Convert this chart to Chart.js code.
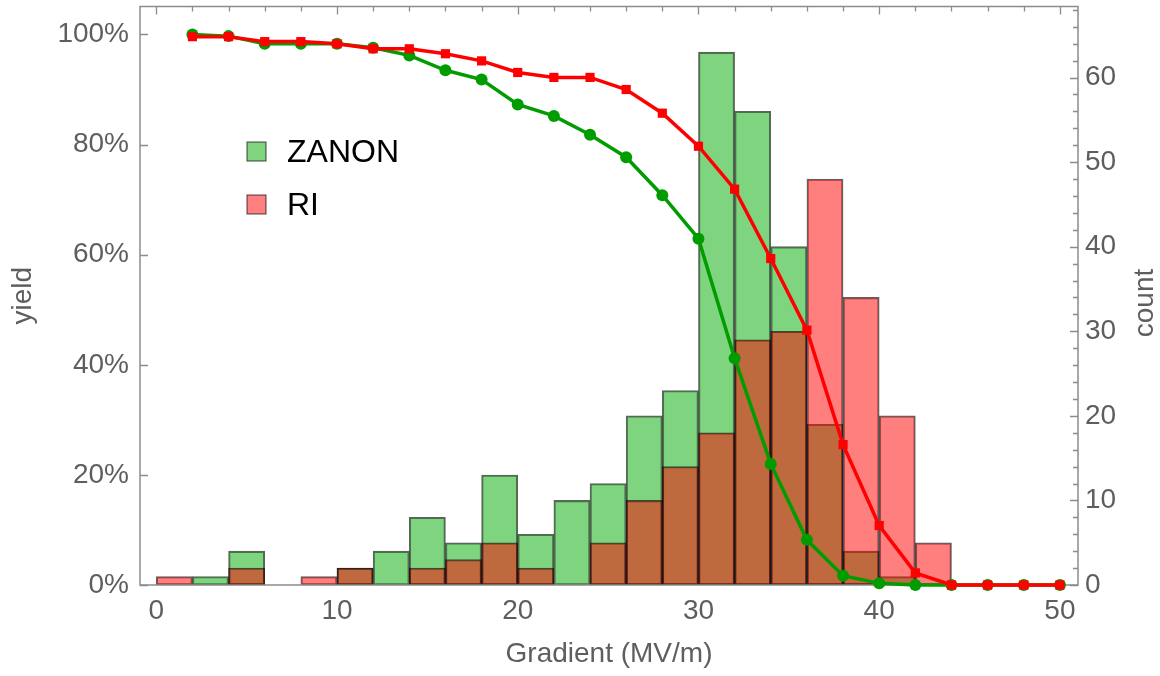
<!DOCTYPE html>
<html>
<head>
<meta charset="utf-8">
<script src="https://cdn.jsdelivr.net/npm/chart.js@4.4.1/dist/chart.umd.min.js"></script>
<style>
  html, body { margin: 0; padding: 0; background: #fff; }
  #wrap { width: 1160px; height: 676px; }
</style>
</head>
<body>
<div id="wrap"><canvas id="chart" width="1160" height="676"></canvas></div>
<script>
// histogram: 2 MV/m wide bins, keyed by bin centre
const binCentres  = [1, 3, 5, 7, 9, 11, 13, 15, 17, 19, 21, 23, 25, 27, 29, 31, 33, 35, 37, 39, 41, 43];
const zanonCounts = [0, 1, 4, 0, 0, 2, 4, 8, 5, 13, 6, 10, 12, 20, 23, 63, 56, 40, 19, 4, 1, 0];
const riCounts    = [1, 0, 2, 0, 1, 2, 0, 2, 3, 5, 2, 0, 5, 10, 14, 18, 29, 30, 48, 34, 20, 5];

// yield curves (%), sampled every 2 MV/m
const yieldGradients = [2, 4, 6, 8, 10, 12, 14, 16, 18, 20, 22, 24, 26, 28, 30, 32, 34, 36, 38, 40, 42, 44, 46, 48, 50];
const zanonYield = [100, 99.7, 98.3, 98.3, 98.3, 97.6, 96.2, 93.5, 91.8, 87.3, 85.2, 81.8, 77.7, 70.8, 62.9, 41.2, 22.0, 8.2, 1.7, 0.3, 0, 0, 0, 0, 0];
const riYield    = [99.6, 99.6, 98.7, 98.7, 98.3, 97.4, 97.4, 96.5, 95.2, 93.1, 92.2, 92.2, 90.0, 85.7, 79.7, 71.9, 59.3, 46.3, 25.5, 10.8, 2.2, 0, 0, 0, 0];

const xTicks     = [0, 10, 20, 30, 40, 50];
const yieldTicks = [0, 20, 40, 60, 80, 100];
const countTicks = [0, 10, 20, 30, 40, 50, 60];

const FONT = '"Liberation Sans", Arial, Helvetica, sans-serif';
const GREY = '#5e5e5e';
const FRAME = '#8c8c8c';

const setTicks = vals => scale => { scale.ticks = vals.map(v => ({ value: v })); };

// frame with inward ticks, drawn after the bars but under the lines
const framePlugin = {
  id: 'frame',
  afterDatasetDraw(chart, args) {
    if (args.index !== 1) return;
    const { ctx, chartArea: a, scales } = chart;
    ctx.save();
    ctx.strokeStyle = FRAME;
    ctx.lineWidth = 1.5;
    ctx.strokeRect(a.left, a.top, a.right - a.left, a.bottom - a.top);
    ctx.lineWidth = 1.3;
    ctx.beginPath();
    for (let v = 0; v <= 50; v += 2) {
      const px = Math.round(scales.x.getPixelForValue(v)) + 0.5;
      const len = v % 10 === 0 ? 8 : 5;
      ctx.moveTo(px, a.top); ctx.lineTo(px, a.top + len);
    }
    scales.y.ticks.forEach(t => {
      const py = Math.round(scales.y.getPixelForValue(t.value)) + 0.5;
      ctx.moveTo(a.left, py); ctx.lineTo(a.left + 8, py);
    });
    for (let v = 0; v <= 68; v += 2) {
      const py = Math.round(scales.y2.getPixelForValue(v)) + 0.5;
      const len = v % 10 === 0 ? 8 : 5;
      ctx.moveTo(a.right, py); ctx.lineTo(a.right - len, py);
    }
    ctx.stroke();
    ctx.restore();
  },
  afterDraw(chart) {
    const { ctx } = chart;
    ctx.save();
    // right axis title, reading bottom to top
    ctx.translate(1145, 303);
    ctx.rotate(-Math.PI / 2);
    ctx.fillStyle = GREY;
    ctx.font = '28px ' + FONT;
    ctx.textAlign = 'center';
    ctx.textBaseline = 'middle';
    ctx.fillText('count', 0, 0);
    ctx.restore();

    // legend
    const items = [
      { label: 'ZANON', fill: 'rgb(128,212,128)', y: 152 },
      { label: 'RI', fill: 'rgb(255,128,128)', y: 205 },
    ];
    ctx.save();
    ctx.font = '32px ' + FONT;
    ctx.textBaseline = 'middle';
    items.forEach(it => {
      ctx.fillStyle = it.fill;
      ctx.fillRect(247, it.y - 10, 19, 19);
      ctx.strokeStyle = 'rgba(0,0,0,0.55)';
      ctx.lineWidth = 1.3;
      ctx.strokeRect(247, it.y - 10, 19, 19);
      ctx.fillStyle = '#000';
      ctx.fillText(it.label, 287, it.y + 1);
    });
    ctx.restore();
  }
};

const barStyle = {
  type: 'bar',
  xAxisID: 'x',
  yAxisID: 'y2',
  grouped: false,
  barPercentage: 1,
  categoryPercentage: 1,
  borderWidth: 1.4,
  borderColor: 'rgba(0,0,0,0.62)',
  borderSkipped: false,
};

const noPad = s => { s.paddingTop = 0; s.paddingBottom = 0; };

new Chart(document.getElementById('chart'), {
  type: 'bar',
  data: {
    datasets: [
      {
        ...barStyle,
        label: 'ZANON',
        order: 4,
        backgroundColor: 'rgba(0,170,0,0.5)',
        data: binCentres.map((c, i) => ({ x: c, y: zanonCounts[i] || null })),
      },
      {
        ...barStyle,
        label: 'RI',
        order: 3,
        backgroundColor: 'rgba(255,0,0,0.5)',
        data: binCentres.map((c, i) => ({ x: c, y: riCounts[i] || null })),
      },
      {
        type: 'line',
        label: 'ZANON yield',
        order: 2,
        xAxisID: 'x',
        yAxisID: 'y',
        borderColor: '#009c00',
        backgroundColor: '#009c00',
        borderWidth: 3.5,
        pointStyle: 'circle',
        pointRadius: 6,
        pointBorderWidth: 0,
        tension: 0,
        clip: false,
        data: yieldGradients.map((g, i) => ({ x: g, y: zanonYield[i] })),
      },
      {
        type: 'line',
        label: 'RI yield',
        order: 1,
        xAxisID: 'x',
        yAxisID: 'y',
        borderColor: '#ff0000',
        backgroundColor: '#ff0000',
        borderWidth: 3.5,
        pointStyle: 'rect',
        pointRadius: 6.5,
        pointBorderWidth: 0,
        tension: 0,
        clip: false,
        data: yieldGradients.map((g, i) => ({ x: g, y: riYield[i] })),
      },
    ],
  },
  options: {
    responsive: false,
    animation: false,
    layout: { padding: { top: 6, left: 0, right: 0, bottom: 0 } },
    plugins: {
      legend: { display: false },
      tooltip: { enabled: false },
    },
    scales: {
      x: {
        type: 'linear',
        position: 'bottom',
        min: -0.9,
        max: 51,
        offset: false,
        grid: { display: false, drawTicks: false },
        border: { display: false },
        afterBuildTicks: setTicks(xTicks),
        ticks: {
          color: GREY,
          font: { family: FONT, size: 28 },
          padding: 9,
          maxRotation: 0,
          autoSkip: false,
        },
        title: {
          display: true,
          text: 'Gradient (MV/m)',
          color: GREY,
          font: { family: FONT, size: 28 },
          padding: { top: 0, bottom: 5 },
        },
        afterFit: s => { s.height = 91; s.paddingLeft = 0; s.paddingRight = 0; },
      },
      y: {
        position: 'left',
        min: 0,
        max: 105.08,
        grid: { display: false, drawTicks: false },
        border: { display: false },
        afterBuildTicks: setTicks(yieldTicks),
        ticks: {
          color: GREY,
          font: { family: FONT, size: 28 },
          padding: 11,
          callback: v => v + '%',
        },
        title: {
          display: true,
          text: 'yield',
          color: GREY,
          font: { family: FONT, size: 28, lineHeight: 1 },
          padding: { top: 9, bottom: 0 },
        },
        afterFit: s => { s.width = 140; noPad(s); },
      },
      y2: {
        position: 'right',
        min: 0,
        max: 68.4,
        grid: { display: false, drawTicks: false },
        border: { display: false },
        afterBuildTicks: setTicks(countTicks),
        ticks: {
          color: GREY,
          font: { family: FONT, size: 28 },
          padding: 7,
        },
        afterFit: s => { s.width = 82; noPad(s); },
      },
    },
  },
  plugins: [framePlugin],
});
</script>
</body>
</html>
